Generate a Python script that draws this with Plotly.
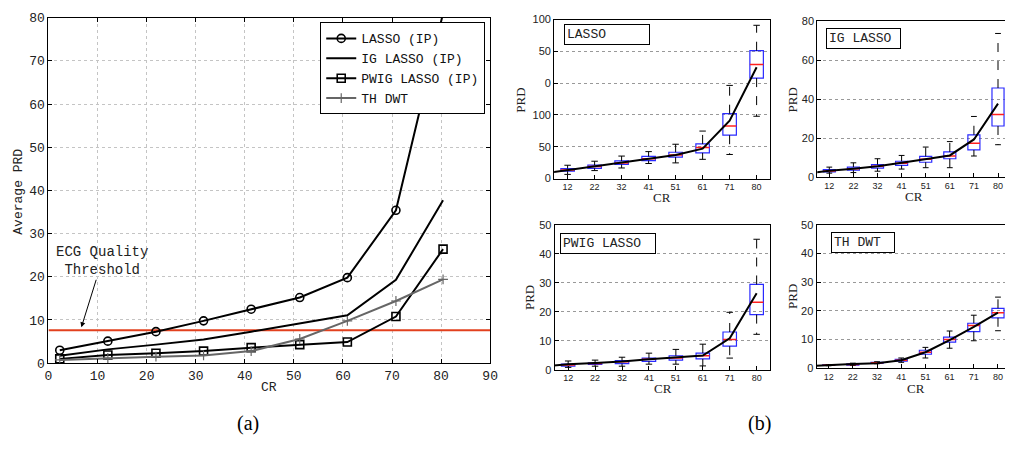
import plotly.graph_objects as go

W, H = 1013, 469

# ---------------- Panel (a) data ----------------
cr_a = [2.3, 12.1, 21.9, 31.6, 41.3, 51.2, 60.9, 70.8, 80.4]
lasso_ip = [3.0, 5.1, 7.3, 9.8, 12.5, 15.2, 19.8, 35.4, 81.0]
ig_lasso_ip = [1.7, 3.2, 4.3, 5.5, 7.3, 9.2, 11.1, 19.3, 37.7]
pwig_lasso_ip = [1.0, 1.9, 2.3, 2.8, 3.6, 4.3, 4.9, 10.8, 26.4]
th_dwt_ip = [0.75, 1.2, 1.5, 1.8, 2.8, 5.6, 9.8, 14.4, 19.4]
threshold = 7.6
threshold_x = [0, 90]

# ---------------- Panel (b) data ----------------
cr_labels = ["12", "22", "32", "41", "51", "61", "71", "80"]
mean_pos = [0, 1, 2, 3, 4, 5, 6, 7, 8]   # first point (CR 2) lies outside the view

lasso_mean = [7.5, 13.5, 19, 25, 31, 37, 47, 91, 175]
lasso_q1 = [11.6, 16.2, 22.2, 28.3, 33.8, 40.4, 68.2, 158]
lasso_med = [13.6, 19.2, 24.7, 31.3, 36.9, 49, 82.8, 179.3]
lasso_q3 = [15.7, 21.2, 27.8, 34.8, 41.4, 54.5, 102, 201]
lasso_lo = [6.6, 12.6, 16.7, 23.7, 24.7, 30.3, 37.9, 98]
lasso_hi = [21, 27.3, 35.4, 42.4, 54, 74.7, 146.5, 241]
lasso_ticks = [0, 50, 100, 150, 200, 250]
lasso_ticktext = ["0", "50", "100", "0", "50", "100"]

ig_mean = ig_lasso_ip
ig_q1 = [2.6, 3.5, 4.6, 6.0, 7.6, 9.4, 13.9, 26.2]
ig_med = [3.1, 4.3, 5.6, 7.1, 9.1, 10.8, 17.4, 32.1]
ig_q3 = [3.8, 5.1, 6.4, 8.1, 10.6, 12.9, 21.7, 45.7]
ig_lo = [2.0, 2.3, 3.0, 4.1, 4.8, 4.8, 10.8, 16.6]
ig_hi = [5.1, 7.3, 9.4, 11.1, 15.4, 18.2, 31.1, 73.7]

pwig_mean = pwig_lasso_ip
pwig_q1 = [1.2, 1.8, 2.1, 2.9, 3.3, 3.7, 8.1, 19.0]
pwig_med = [1.6, 2.1, 2.7, 3.6, 4.0, 4.8, 10.4, 23.3]
pwig_q3 = [1.9, 2.4, 3.1, 4.0, 4.8, 5.7, 13.0, 29.4]
pwig_lo = [0.8, 1.2, 1.2, 1.9, 1.9, 1.3, 4.0, 12.2]
pwig_hi = [3.0, 3.3, 4.3, 5.7, 7.0, 8.8, 19.8, 45.0]

th_mean = th_dwt_ip
th_q1 = [1.0, 1.1, 1.7, 2.5, 4.9, 9.1, 12.8, 17.6]
th_med = [1.1, 1.35, 1.9, 2.8, 5.6, 10.0, 14.9, 19.4]
th_q3 = [1.2, 1.6, 2.1, 3.1, 6.3, 10.9, 15.7, 20.9]
th_lo = [0.9, 1.0, 1.6, 2.1, 3.6, 7.0, 9.6, 13.1]
th_hi = [1.3, 1.8, 2.3, 3.6, 7.3, 13.0, 18.5, 24.8]

MONO = "Liberation Mono"
SANS = "Liberation Sans"
SERIF = "Liberation Serif"
BOXBLUE = "#2a2aff"

fig = go.Figure()

# ---------------- Panel (a) traces ----------------
fig.add_trace(go.Scatter(x=threshold_x, y=[threshold, threshold], mode="lines",
                         line=dict(color="#e2401e", width=2), showlegend=False,
                         xaxis="x", yaxis="y", hoverinfo="skip"))
fig.add_trace(go.Scatter(x=cr_a, y=lasso_ip, mode="lines+markers", name="LASSO (IP)",
                         line=dict(color="black", width=2),
                         marker=dict(symbol="circle-open", size=8, color="black",
                                     line=dict(width=1.6)),
                         xaxis="x", yaxis="y"))
fig.add_trace(go.Scatter(x=cr_a, y=ig_lasso_ip, mode="lines", name="IG LASSO (IP)",
                         line=dict(color="black", width=2), xaxis="x", yaxis="y"))
fig.add_trace(go.Scatter(x=cr_a, y=pwig_lasso_ip, mode="lines+markers", name="PWIG LASSO (IP)",
                         line=dict(color="black", width=2),
                         marker=dict(symbol="square-open", size=8, color="black",
                                     line=dict(width=1.6)),
                         xaxis="x", yaxis="y"))
fig.add_trace(go.Scatter(x=cr_a, y=th_dwt_ip, mode="lines+markers", name="TH DWT",
                         line=dict(color="#666666", width=2),
                         marker=dict(symbol="cross-thin-open", size=7, color="#666666",
                                     line=dict(width=1.2, color="#666666")),
                         xaxis="x", yaxis="y"))


# ---------------- Panel (b) helpers ----------------
def add_box_panel(xa, ya, mean, q1, med, q3, lo, hi):
    pos = list(range(1, len(q1) + 1))
    heights = [b - a for a, b in zip(q1, q3)]
    fig.add_trace(go.Bar(x=pos, y=heights, base=q1, width=0.5,
                         marker=dict(color="rgba(255,255,255,0)",
                                     line=dict(color=BOXBLUE, width=1.2)),
                         showlegend=False, xaxis=xa, yaxis=ya, hoverinfo="skip"))
    wx, wy = [], []
    for p, a, b, l, h in zip(pos, q1, q3, lo, hi):
        wx += [p, p, None, p, p, None]
        wy += [b, h, None, a, l, None]
    fig.add_trace(go.Scatter(x=wx, y=wy, mode="lines",
                             line=dict(color="black", width=1, dash="dash"),
                             showlegend=False, xaxis=xa, yaxis=ya, hoverinfo="skip"))
    cx, cy = [], []
    for p, l, h in zip(pos, lo, hi):
        cx += [p - 0.12, p + 0.12, None, p - 0.12, p + 0.12, None]
        cy += [h, h, None, l, l, None]
    fig.add_trace(go.Scatter(x=cx, y=cy, mode="lines",
                             line=dict(color="black", width=1),
                             showlegend=False, xaxis=xa, yaxis=ya, hoverinfo="skip"))
    mx, my = [], []
    for p, m in zip(pos, med):
        mx += [p - 0.25, p + 0.25, None]
        my += [m, m, None]
    fig.add_trace(go.Scatter(x=mx, y=my, mode="lines",
                             line=dict(color="#ff2020", width=1.5),
                             showlegend=False, xaxis=xa, yaxis=ya, hoverinfo="skip"))
    fig.add_trace(go.Scatter(x=mean_pos, y=mean, mode="lines",
                             line=dict(color="black", width=2),
                             showlegend=False, xaxis=xa, yaxis=ya, hoverinfo="skip"))


add_box_panel("x2", "y2", lasso_mean, lasso_q1, lasso_med, lasso_q3, lasso_lo, lasso_hi)
add_box_panel("x3", "y3", ig_mean, ig_q1, ig_med, ig_q3, ig_lo, ig_hi)
add_box_panel("x4", "y4", pwig_mean, pwig_q1, pwig_med, pwig_q3, pwig_lo, pwig_hi)
add_box_panel("x5", "y5", th_mean, th_q1, th_med, th_q3, th_lo, th_hi)


def px_x(a, b):
    return [a / W, min(b / W, 1.0)]


def px_y(top, bottom):
    return [1 - bottom / H, 1 - top / H]


axis_common = dict(showline=True, linecolor="black", linewidth=1, ticks="inside",
                   tickcolor="black", ticklen=4, zeroline=False)

layout = dict(
    width=W, height=H, margin=dict(l=0, r=0, t=0, b=0),
    paper_bgcolor="white", plot_bgcolor="white",
    showlegend=True,
    legend=dict(x=487 / W, y=1 - 17 / H, xanchor="right", yanchor="top",
                bgcolor="white", bordercolor="black", borderwidth=1,
                font=dict(family=MONO, size=13, color="#111111"),
                tracegroupgap=0, itemwidth=30),
    xaxis=dict(domain=px_x(45, 492), range=[0, 90], tickvals=list(range(0, 91, 10)),
               mirror="ticks", showgrid=True, gridcolor="#c4c4c4", griddash="dot",
               tickfont=dict(family=MONO, size=13, color="#222"), anchor="y", **axis_common),
    yaxis=dict(domain=px_y(12, 369), range=[0, 80], tickvals=list(range(0, 81, 10)),
               mirror="ticks", showgrid=True, gridcolor="#c4c4c4", griddash="dot",
               tickfont=dict(family=MONO, size=13, color="#222"), anchor="x", **axis_common),
)

bpanels = [
    ("xaxis2", "yaxis2", "y2", "x2", (556.7, 775.3), (14, 178.3), [0.5, 8.5], [0, 250], lasso_ticks, lasso_ticktext),
    ("xaxis3", "yaxis3", "y3", "x3", (823, 1013), (15.7, 176.7), [0.5, 8.29], [0, 80], [0, 20, 40, 60, 80], None),
    ("xaxis4", "yaxis4", "y4", "x4", (557.3, 775.3), (226, 375.7), [0.5, 8.5], [0, 50], [0, 10, 20, 30, 40, 50], None),
    ("xaxis5", "yaxis5", "y5", "x5", (822.3, 1013), (226, 374.3), [0.5, 8.29], [0, 50], [0, 10, 20, 30, 40, 50], None),
]
for xk, yk, yref, xref, (xl, xr), (yt, yb), xr_, yr_, yt_, ytt in bpanels:
    right_cut = xr >= W
    layout[xk] = dict(domain=px_x(xl, xr), range=xr_, tickvals=list(range(1, 9)),
                      ticktext=cr_labels, anchor=yref, mirror=True, showgrid=False,
                      tickfont=dict(family=SANS, size=9, color="#222"), **axis_common)
    ydict = dict(domain=px_y(yt, yb), range=yr_, tickvals=yt_, anchor=xref,
                 mirror=(False if right_cut else True), showgrid=True,
                 gridcolor="#999999", griddash="dot",
                 tickfont=dict(family=SANS, size=11, color="#222"), **axis_common)
    if ytt is not None:
        ydict["ticktext"] = ytt
    layout[yk] = ydict

fig.update_layout(**layout)

ann = []


def txt(text, x, y, font, angle=0):
    return dict(text=text, x=x / W, y=1 - y / H, xref="paper", yref="paper", showarrow=False,
                xanchor="center", yanchor="middle", textangle=angle, font=font)


# axis titles panel (a)
ann.append(txt("CR", 268, 394, dict(family=MONO, size=13, color="#222")))
ann.append(txt("Average PRD", 15, 192, dict(family=MONO, size=13, color="#222"), -90))
# threshold annotation
ann.append(dict(text="ECG Quality<br>Threshold", x=6.7, y=8.3, xref="x", yref="y",
                ax=10.9, ay=23.6, axref="x", ayref="y", showarrow=True,
                arrowhead=2, arrowsize=1, arrowwidth=1, arrowcolor="black",
                font=dict(family=MONO, size=14, color="#222")))
# (b) axis titles
for tx, ty, t, ang in [(666, 198, "CR", 0), (921, 197, "CR", 0), (667, 395, "CR", 0), (923, 395, "CR", 0),
                       (523, 97, "PRD", -90), (798, 97, "PRD", -90), (532, 301, "PRD", -90), (798, 300, "PRD", -90)]:
    ann.append(txt(t, tx, ty, dict(family=SERIF, size=13, color="#222"), ang))
# (b) panel labels
for lx, ly, w, t in [(567, 19, 80, "LASSO"), (832, 23, 69, "IG LASSO"),
                     (563, 234, 90, "PWIG LASSO"), (837, 233, 58, "TH DWT")]:
    ann.append(dict(text=t, x=lx / W, y=1 - ly / H, xref="paper", yref="paper", showarrow=False,
                    xanchor="left", yanchor="top", align="left", width=w, height=15,
                    bordercolor="black", borderwidth=1, borderpad=2, bgcolor="white",
                    font=dict(family=MONO, size=13, color="#222")))
# captions
ann.append(txt("(a)", 247, 431, dict(family=SERIF, size=20, color="black")))
ann.append(txt("(b)", 765, 431, dict(family=SERIF, size=20, color="black")))

fig.update_layout(annotations=ann)
fig.write_html("out.html", config={"displayModeBar": False},
               post_script="document.body.style.margin='0';document.body.style.overflow='hidden';")
